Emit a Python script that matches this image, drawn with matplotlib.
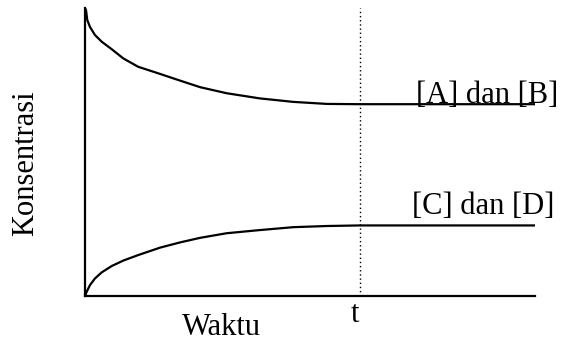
import matplotlib.pyplot as plt

# data (time in arbitrary units, concentration 0..1)
t_eq = 6.1

waktu_ab = [0, 0.022, 0.051, 0.111, 0.222, 0.371, 0.593, 0.851, 1.18, 1.67,
            2.11, 2.56, 3.15, 3.89, 4.63, 5.37, 6.1, 10]
konsentrasi_ab = [1.0, 0.993, 0.958, 0.934, 0.906, 0.883, 0.857, 0.825, 0.796, 0.771,
                  0.748, 0.725, 0.704, 0.686, 0.674, 0.667, 0.666, 0.666]

waktu_cd = [0, 0.038, 0.111, 0.222, 0.371, 0.593, 0.851, 1.18, 1.67,
            2.11, 2.56, 3.15, 3.89, 4.63, 5.37, 6.1, 10]
konsentrasi_cd = [0, 0.015, 0.038, 0.061, 0.082, 0.104, 0.123, 0.142, 0.168,
                  0.186, 0.202, 0.218, 0.229, 0.239, 0.243, 0.245, 0.245]

label_ab = '[A] dan [B]'
label_cd = '[C] dan [D]'

plt.rcParams['font.family'] = ['Liberation Serif', 'DejaVu Serif']

fig = plt.figure(figsize=(5.65, 3.42), dpi=100)
ax = fig.add_axes([85 / 565, 46 / 342, 450 / 565, 288 / 342])

ax.plot(waktu_ab, konsentrasi_ab, 'k', lw=1.6)
ax.plot(waktu_cd, konsentrasi_cd, 'k', lw=1.6)
ax.plot([t_eq, t_eq], [0, 1], color='k', lw=1.0, ls=(0, (1, 2)))

ax.set_xlim(0, 10)
ax.set_ylim(0, 1)
for s in ['top', 'right']:
    ax.spines[s].set_visible(False)
for s in ['left', 'bottom']:
    ax.spines[s].set_linewidth(1.6)
ax.set_xticks([])
ax.set_yticks([])

ax.text(10.51, 0.670, label_ab, fontsize=22, ha='right', va='baseline', clip_on=False)
ax.text(10.42, 0.285, label_cd, fontsize=22, ha='right', va='baseline', clip_on=False)
ax.text(6.0, -0.090, 't', fontsize=22, ha='center', va='baseline', clip_on=False)
ax.text(3.04, -0.135, 'Waktu', fontsize=22, ha='center', va='baseline', clip_on=False)
fig.text(26 / 565, 1 - 163 / 342, 'Konsentrasi', fontsize=22, rotation=90,
         ha='center', va='center')

fig.savefig('out.png', dpi=100)
